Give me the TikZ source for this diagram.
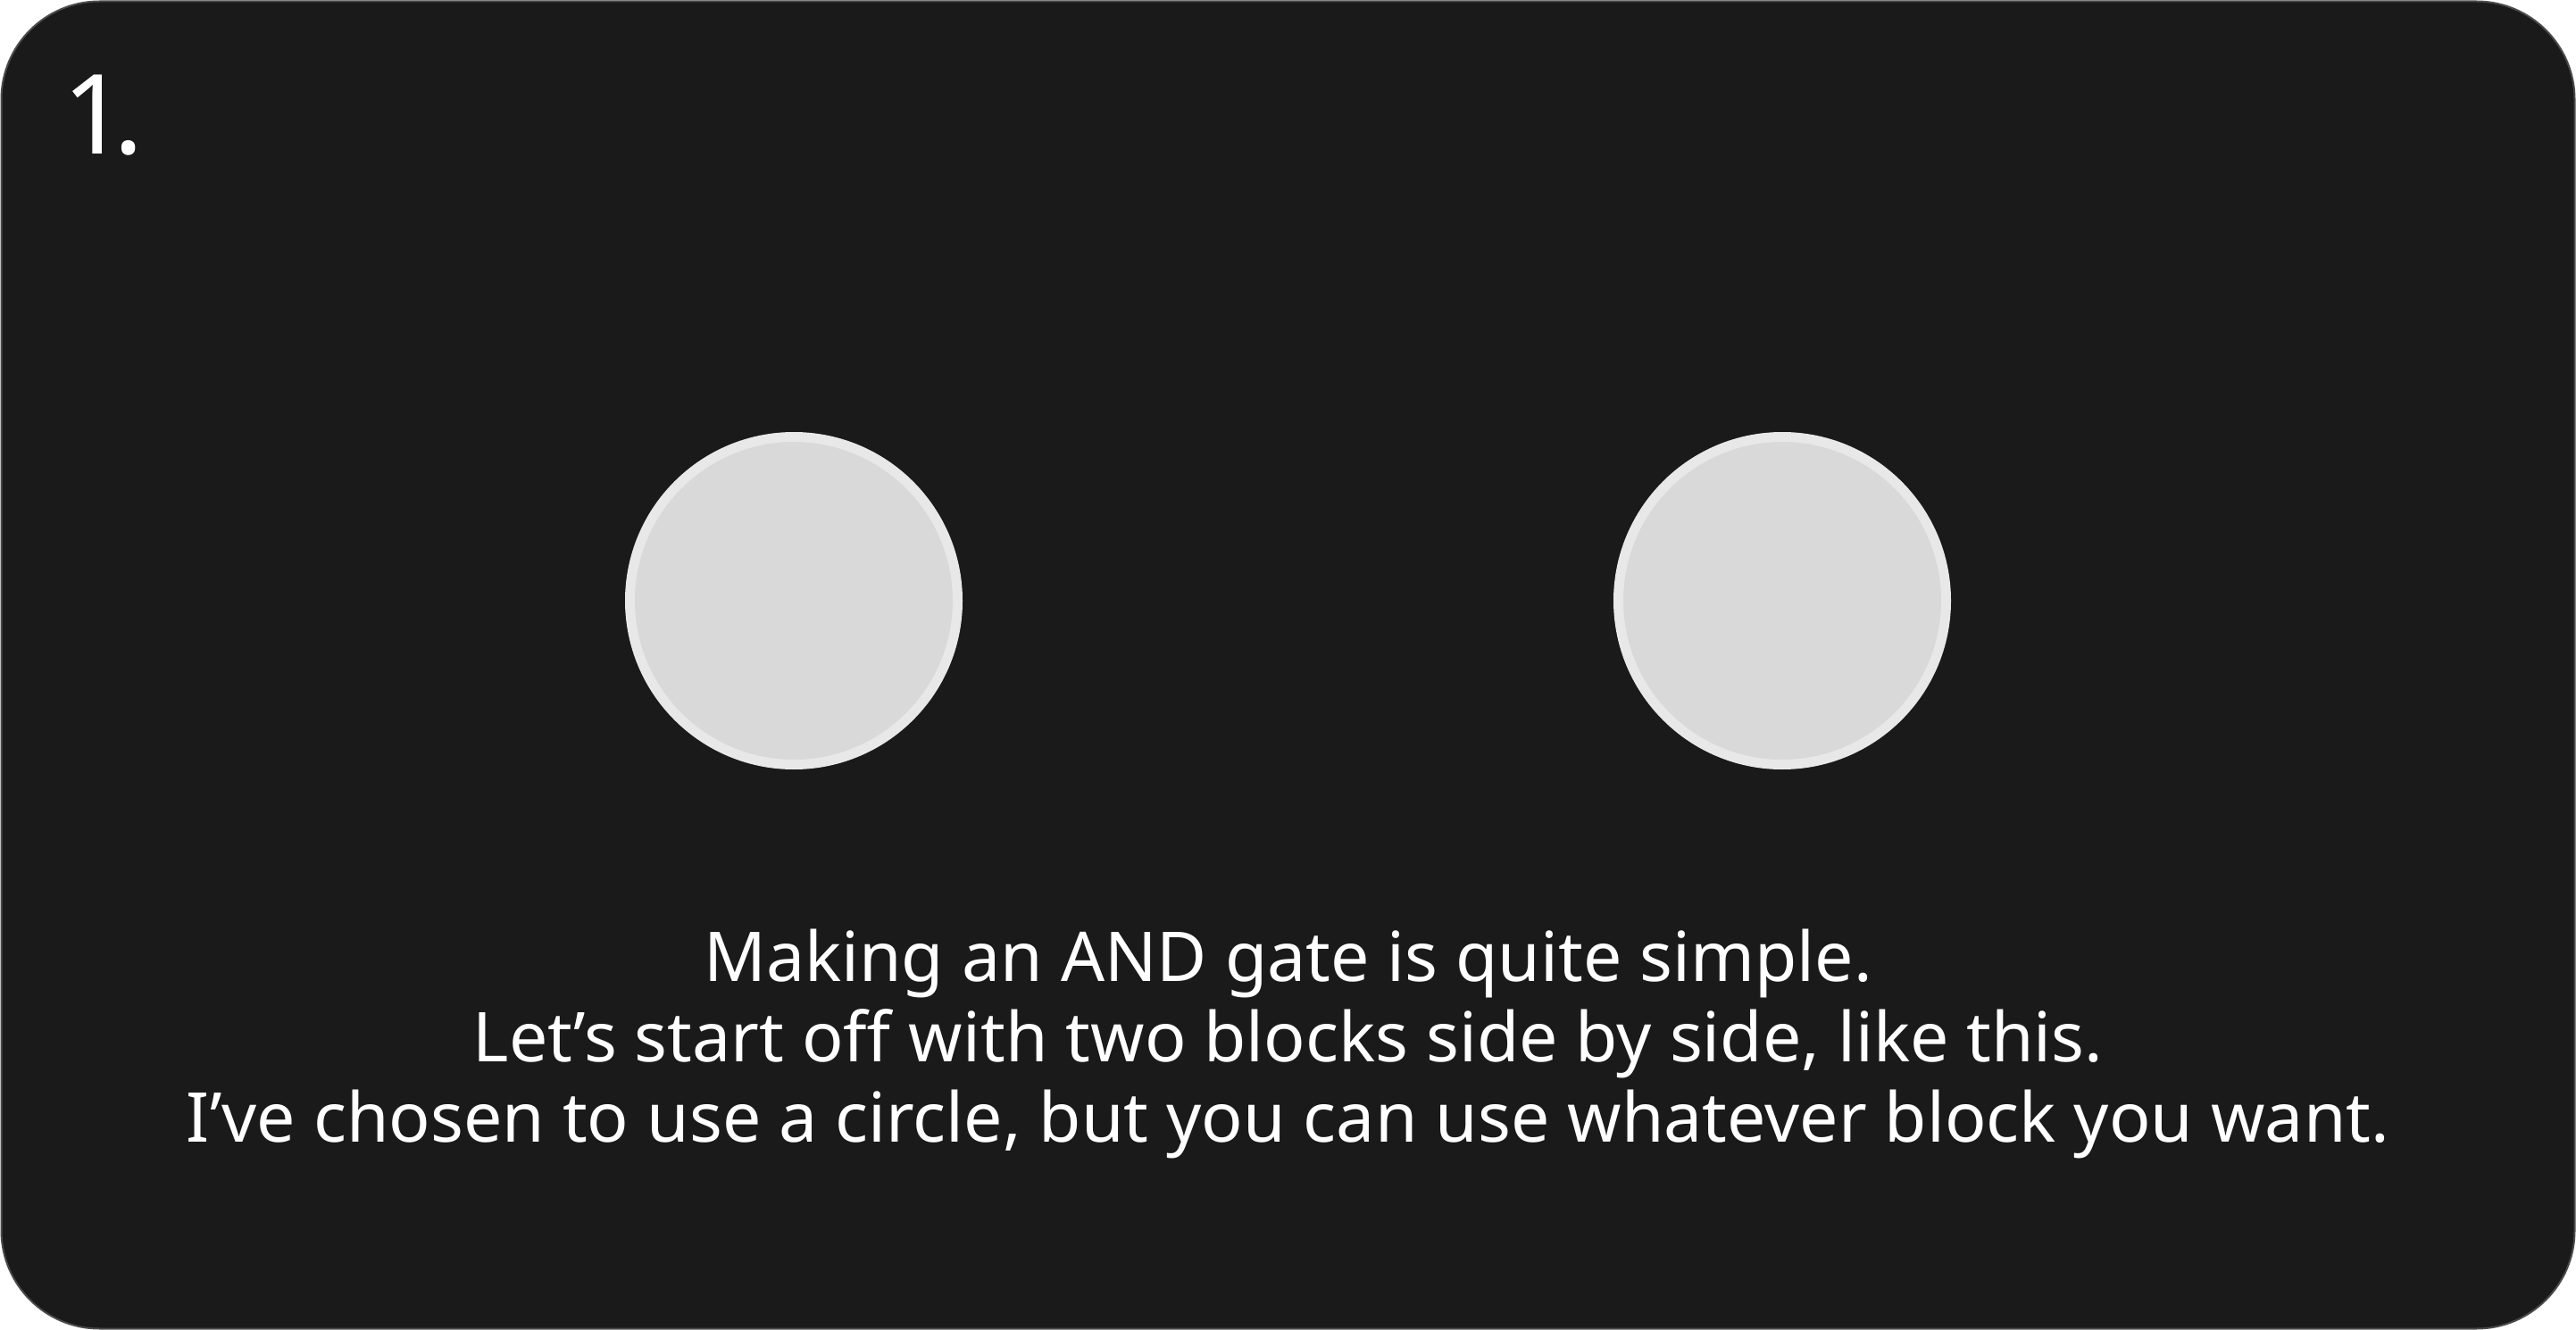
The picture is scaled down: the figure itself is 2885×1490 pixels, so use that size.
\documentclass[tikz,border=0pt]{standalone}
\usepackage{fontspec}
\setmainfont{Noto Sans}
\definecolor{bgdark}{HTML}{1A1A1A}
\definecolor{frameline}{HTML}{4A4A4A}
\definecolor{blockfill}{HTML}{D9D9D9}
\definecolor{blockline}{HTML}{E8E8E8}
\begin{document}
\begin{tikzpicture}[x=1pt,y=-1pt,
  block/.style={circle,fill=blockfill,draw=blockline,line width=11pt,minimum size=367pt,inner sep=0pt},
  caption/.style={text=white,anchor=base,inner sep=0pt,font=\fontsize{77}{90}\selectfont},
  stepnum/.style={text=white,anchor=base west,inner sep=0pt,font=\fontsize{124}{140}\selectfont}]
\useasboundingbox (0,0) rectangle (2885,1490);
\fill[white] (0,0) rectangle (2885,1490);
\node[draw=frameline,fill=bgdark,line width=2pt,rounded corners=110pt,minimum width=2882pt,minimum height=1487pt,inner sep=0pt] (frame) at (1442.5,745) {};
\node[stepnum] (num) at (70,173) {1\kern-14pt.};
\node[block] (c1) at (889,673) {};
\node[block] (c2) at (1996,673) {};
\node[caption] (t1) at (1442.5,1099) {Making an AND gate is quite simple.};
\node[caption] (t2) at (1442.5,1189) {Let’s start off with two blocks side by side, like this.};
\node[caption] (t3) at (1442.5,1279) {I’ve chosen to use a circle, but you can use whatever block you want.};
\end{tikzpicture}
\end{document}
